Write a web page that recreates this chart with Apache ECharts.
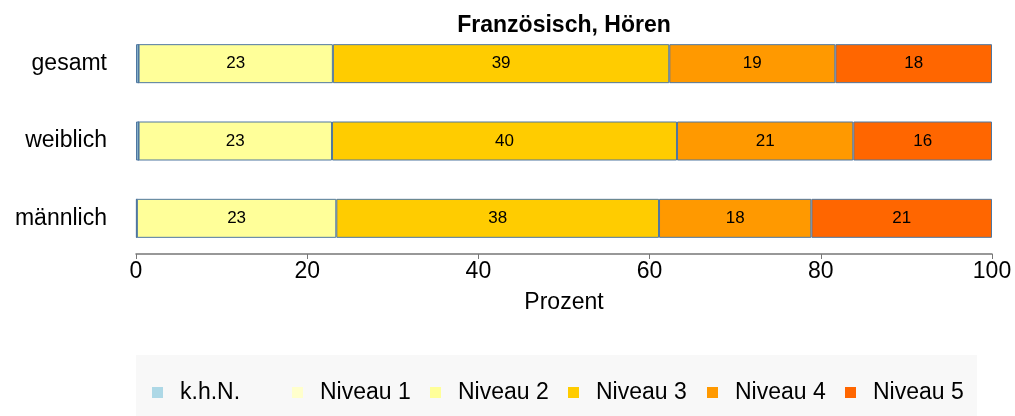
<!DOCTYPE html>
<html>
<head>
<meta charset="utf-8">
<script src="https://cdn.jsdelivr.net/npm/echarts@6/dist/echarts.min.js"></script>
<style>
  html, body { margin: 0; padding: 0; background: #fff; }
  #chart { width: 1015px; height: 416px; }
</style>
</head>
<body>
<div id="chart"></div>
<script>
// Groups shown on the y axis (top to bottom)
const categories = ['gesamt', 'weiblich', 'männlich'];

// Percentages per competence level, one value per group
const khN     = [0.3, 0.3, 0.1];
const niveau1 = [0.0, 0.0, 0.0];
const niveau2 = [22.7, 22.6, 23.3];
const niveau3 = [39.3, 40.3, 37.7];
const niveau4 = [19.4, 20.6, 17.8];
const niveau5 = [18.3, 16.2, 21.1];

const xTicks = [0, 20, 40, 60, 80, 100];

const levels = [
  { name: 'k.h.N.',   data: khN,     color: '#add8e6', label: false },
  { name: 'Niveau 1', data: niveau1, color: '#ffffcc', label: false },
  { name: 'Niveau 2', data: niveau2, color: '#ffff99', label: true },
  { name: 'Niveau 3', data: niveau3, color: '#ffcc00', label: true },
  { name: 'Niveau 4', data: niveau4, color: '#ff9900', label: true },
  { name: 'Niveau 5', data: niveau5, color: '#ff6600', label: true }
];

const FONT = 'Liberation Sans, Arial, sans-serif';

const series = levels.map(l => ({
  name: l.name,
  type: 'bar',
  stack: 'total',
  barWidth: 39,
  data: l.data,
  itemStyle: { color: l.color, borderColor: '#4f77a0', borderWidth: 1 },
  label: {
    show: l.label,
    position: 'inside',
    color: '#000',
    fontFamily: FONT,
    fontSize: 17,
    formatter: p => Math.round(p.value)
  },
  emphasis: { disabled: true }
}));

// One legend block per level so the entries sit on an even spacing
const legendX = [152, 292, 430, 568, 707, 845];
const legends = levels.map((l, i) => ({
  data: [l.name],
  left: legendX[i],
  top: 381,
  padding: 0,
  icon: 'rect',
  itemWidth: 11,
  itemHeight: 11,
  itemStyle: { borderWidth: 0 },
  selectedMode: false,
  textStyle: { fontFamily: FONT, fontSize: 23, color: '#000', padding: [0, 0, 0, 12] }
}));

const chart = echarts.init(document.getElementById('chart'), null, { renderer: 'canvas' });
chart.setOption({
  animation: false,
  backgroundColor: '#ffffff',
  title: {
    text: 'Französisch, Hören',
    left: 564,
    textAlign: 'center',
    top: 14,
    padding: 0,
    textStyle: { fontFamily: FONT, fontSize: 23, fontWeight: 'bold', color: '#000' }
  },
  graphic: [{
    type: 'rect',
    z: -10,
    shape: { x: 136, y: 355, width: 841, height: 61 },
    style: { fill: '#f8f8f8' }
  }],
  legend: legends,
  grid: { left: 136, right: 23, top: 25, height: 232 },
  xAxis: {
    type: 'value',
    min: xTicks[0],
    max: xTicks[xTicks.length - 1],
    interval: 20,
    offset: -3,
    name: 'Prozent',
    nameLocation: 'middle',
    nameGap: 37,
    nameTextStyle: { fontFamily: FONT, fontSize: 23, color: '#000' },
    axisLine: { show: true, lineStyle: { color: '#777', width: 1.5 } },
    axisTick: { show: true, length: 5, lineStyle: { color: '#777' } },
    axisLabel: { fontFamily: FONT, fontSize: 23, color: '#000', margin: 6 },
    splitLine: { show: false }
  },
  yAxis: {
    type: 'category',
    data: categories,
    inverse: true,
    axisLine: { show: false },
    axisTick: { show: false },
    axisLabel: { fontFamily: FONT, fontSize: 23, color: '#000', margin: 29 }
  },
  series: series
});
</script>
</body>
</html>
